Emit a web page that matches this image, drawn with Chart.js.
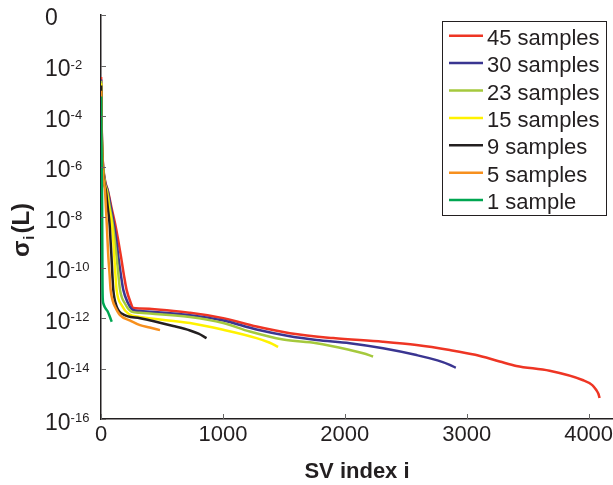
<!DOCTYPE html>
<html>
<head>
<meta charset="utf-8">
<script src="https://cdn.jsdelivr.net/npm/chart.js@4/dist/chart.umd.min.js"></script>
<style>
  html, body { margin: 0; padding: 0; background: #fff; }
</style>
</head>
<body>
<canvas id="svChart" width="613" height="485"></canvas>
<script>
// singular values, per number of samples
const seriesLabels = ['45 samples', '30 samples', '23 samples', '15 samples', '9 samples', '5 samples', '1 sample'];
const seriesColors = ['#ee3524', '#3a3591', '#a5c93d', '#fff200', '#231f20', '#f7901e', '#00a651'];

const idx45 = [1, 3, 6, 10, 18, 35, 57, 85, 115, 140, 164, 188, 210, 240, 265, 320, 730, 1003, 1276, 1549, 1904, 2311, 2588, 2861, 3070, 3270, 3407, 3680, 3950, 4030, 4063, 4080, 4090];
const sv45 = [3.5e-3, 3.2e-4, 3.2e-5, 5.0e-6, 1.0e-6, 2.5e-7, 1.1e-7, 2.5e-8, 5.6e-9, 1.3e-9, 2.7e-10, 5.0e-11, 1.3e-11, 4.5e-12, 2.5e-12, 2.4e-12, 1.6e-12, 9.8e-13, 4.6e-13, 2.5e-13, 1.6e-13, 1.15e-13, 8.5e-14, 5.4e-14, 3.5e-14, 1.9e-14, 1.26e-14, 8.1e-15, 3.5e-15, 2.2e-15, 1.4e-15, 1.0e-15, 6.8e-16];

const idx30 = [1, 3, 6, 10, 18, 35, 55, 80, 105, 125, 142, 162, 183, 220, 260, 320, 730, 1003, 1276, 1549, 1768, 2041, 2314, 2588, 2760, 2861, 2910];
const sv30 = [2.8e-3, 2.5e-4, 2.5e-5, 4.0e-6, 8.9e-7, 2.2e-7, 1.1e-7, 2.5e-8, 5.6e-9, 1.3e-9, 2.7e-10, 5.6e-11, 1.3e-11, 4.0e-12, 2.1e-12, 1.9e-12, 1.3e-12, 7.9e-13, 3.5e-13, 1.9e-13, 1.35e-13, 1.0e-13, 6.3e-14, 3.4e-14, 2.1e-14, 1.4e-14, 1.07e-14];

const idx23 = [1, 3, 6, 10, 18, 33, 50, 72, 95, 112, 128, 142, 156, 200, 250, 320, 730, 1003, 1221, 1494, 1768, 2041, 2150, 2232];
const sv23 = [2.5e-3, 2.0e-4, 2.0e-5, 3.2e-6, 7.9e-7, 2.0e-7, 1.1e-7, 2.5e-8, 5.6e-9, 1.3e-9, 2.7e-10, 5.6e-11, 1.3e-11, 3.5e-12, 1.8e-12, 1.6e-12, 1.1e-12, 6.3e-13, 2.9e-13, 1.4e-13, 1.0e-13, 5.4e-14, 4.0e-14, 3.0e-14];

const idx15 = [1, 3, 6, 10, 18, 30, 45, 65, 88, 100, 109, 118, 128, 170, 230, 320, 730, 1003, 1276, 1380, 1453];
const sv15 = [2.0e-3, 1.6e-4, 1.6e-5, 2.5e-6, 6.3e-7, 2.0e-7, 1.1e-7, 2.5e-8, 5.6e-9, 1.3e-9, 2.7e-10, 5.6e-11, 1.3e-11, 3.2e-12, 1.4e-12, 1.1e-12, 6.3e-13, 3.4e-13, 1.6e-13, 1.07e-13, 7.2e-14];

const idx9 = [1, 3, 6, 10, 18, 30, 40, 55, 70, 78, 86, 93, 101, 125, 170, 320, 593, 730, 800, 866];
const sv9 = [1.6e-3, 1.3e-4, 1.3e-5, 2.0e-6, 5.0e-7, 1.8e-7, 1.1e-7, 2.5e-8, 5.6e-9, 1.3e-9, 2.7e-10, 5.6e-11, 1.3e-11, 3.2e-12, 1.5e-12, 9.8e-13, 4.8e-13, 3.2e-13, 2.4e-13, 1.6e-13];

const idx5 = [1, 3, 6, 10, 18, 33, 40, 47, 53, 60, 70, 79, 95, 115, 156, 240, 320, 400, 484];
const sv5 = [1.0e-3, 1.0e-4, 1.0e-5, 1.6e-6, 4.0e-7, 1.1e-7, 2.5e-8, 5.6e-9, 1.3e-9, 2.7e-10, 5.6e-11, 1.3e-11, 5.0e-12, 2.8e-12, 1.3e-12, 7.9e-13, 5.2e-13, 4.2e-13, 3.3e-13];

const idx1 = [1, 3, 5, 7, 9, 10, 11, 12, 14, 19, 35, 55, 75, 88];
const sv1 = [5.9e-4, 3.2e-5, 3.2e-6, 3.2e-7, 3.2e-8, 3.2e-9, 3.2e-10, 3.2e-11, 6.3e-12, 3.8e-12, 2.5e-12, 1.8e-12, 1.05e-12, 7.1e-13];

const xTicks = [0, 1000, 2000, 3000, 4000];
const yTicks = [1, 1e-2, 1e-4, 1e-6, 1e-8, 1e-10, 1e-12, 1e-14, 1e-16];
const yTickLabels = ['0', '-2', '-4', '-6', '-8', '-10', '-12', '-14', '-16'];

const allIdx = [idx45, idx30, idx23, idx15, idx9, idx5, idx1];
const allSv = [sv45, sv30, sv23, sv15, sv9, sv5, sv1];

const INK = '#231f20';
const FONT = '"Liberation Sans", Arial, Helvetica, sans-serif';

const datasets = seriesLabels.map((label, k) => ({
    label: label,
    data: allIdx[k].map((x, j) => ({ x: x, y: allSv[k][j] })),
    borderColor: seriesColors[k],
    borderWidth: 2.5,
    pointRadius: 0,
    fill: false,
    cubicInterpolationMode: 'monotone'
})).reverse(); // draw 1 sample first, 45 samples on top

const extras = {
    id: 'extras',
    afterDraw(chart) {
        const ctx = chart.ctx;
        const xs = chart.scales.x, ys = chart.scales.y;
        ctx.save();

        // inward ticks
        ctx.strokeStyle = '#666';
        ctx.lineWidth = 1;
        ctx.beginPath();
        yTicks.forEach(v => {
            const py = Math.round(ys.getPixelForValue(v)) + 0.5;
            ctx.moveTo(xs.left, py);
            ctx.lineTo(xs.left + 5, py);
        });
        xTicks.forEach(v => {
            const px = Math.round(xs.getPixelForValue(v)) + 0.5;
            ctx.moveTo(px, ys.bottom);
            ctx.lineTo(px, ys.bottom - 5);
        });
        ctx.stroke();

        // y tick labels: 10 with superscript exponent
        ctx.fillStyle = INK;
        ctx.textAlign = 'left';
        ctx.textBaseline = 'alphabetic';
        yTicks.forEach((v, i) => {
            const py = ys.getPixelForValue(v);
            ctx.font = '23px ' + FONT;
            if (v === 1) {
                ctx.fillText(yTickLabels[i], 45, py + 10);
                return;
            }
            ctx.fillText('10', 45, py + 10.7);
            const w = ctx.measureText('10').width;
            ctx.font = '13px ' + FONT;
            ctx.fillText(yTickLabels[i], 45 + w, py + 3);
        });

        // y title: sigma_i(L)
        ctx.save();
        ctx.translate(29, 230);
        ctx.rotate(-Math.PI / 2);
        const big = 'bold 24px ' + FONT, small = 'bold 15px ' + FONT;
        ctx.font = big; const w1 = ctx.measureText('σ').width + 1;
        ctx.font = small; const w2 = ctx.measureText('i').width + 2;
        ctx.font = big; const w3 = ctx.measureText('(L)').width;
        let tx = -(w1 + w2 + w3) / 2;
        ctx.font = big; ctx.fillText('σ', tx, 0); tx += w1;
        ctx.font = small; ctx.fillText('i', tx, 5); tx += w2;
        ctx.font = big; ctx.fillText('(L)', tx, 0);
        ctx.restore();

        // legend box
        ctx.strokeStyle = INK;
        ctx.lineWidth = 1;
        ctx.strokeRect(442.5, 21.5, 164, 194);
        ctx.font = '22px ' + FONT;
        seriesLabels.forEach((label, k) => {
            const ly = 35.7 + 27.4 * k;
            ctx.strokeStyle = seriesColors[k];
            ctx.lineWidth = 2.5;
            ctx.beginPath();
            ctx.moveTo(449, ly);
            ctx.lineTo(483, ly);
            ctx.stroke();
            ctx.fillStyle = INK;
            ctx.fillText(label, 487, ly + 9);
        });
        ctx.restore();
    }
};

new Chart(document.getElementById('svChart').getContext('2d'), {
    type: 'line',
    data: { datasets: datasets },
    plugins: [extras],
    options: {
        responsive: false,
        animation: false,
        devicePixelRatio: 1,
        layout: { padding: { top: 15, right: 0, bottom: 0, left: 0 } },
        plugins: { legend: { display: false }, tooltip: { enabled: false } },
        scales: {
            x: {
                type: 'linear',
                min: 0,
                max: 4200,
                afterBuildTicks: s => { s.ticks = xTicks.map(v => ({ value: v })); },
                afterFit: s => { s.height = 66; s.paddingLeft = 0; s.paddingRight = 0; },
                grid: { display: false, drawTicks: false },
                border: { display: true, color: INK, width: 1.5 },
                ticks: {
                    color: INK,
                    font: { family: FONT, size: 22 },
                    padding: 3,
                    maxRotation: 0,
                    autoSkip: false,
                    callback: v => String(v)
                },
                title: {
                    display: true,
                    text: 'SV index i',
                    color: INK,
                    font: { family: FONT, size: 22, weight: 'bold' },
                    padding: { top: 2, bottom: 0 }
                }
            },
            y: {
                type: 'logarithmic',
                min: 1e-16,
                max: 1,
                afterBuildTicks: s => { s.ticks = yTicks.map(v => ({ value: v })); },
                afterFit: s => { s.width = 101; },
                grid: { display: false, drawTicks: false },
                border: { display: true, color: INK, width: 1.5 },
                ticks: { display: false }
            }
        }
    }
});
</script>
</body>
</html>
